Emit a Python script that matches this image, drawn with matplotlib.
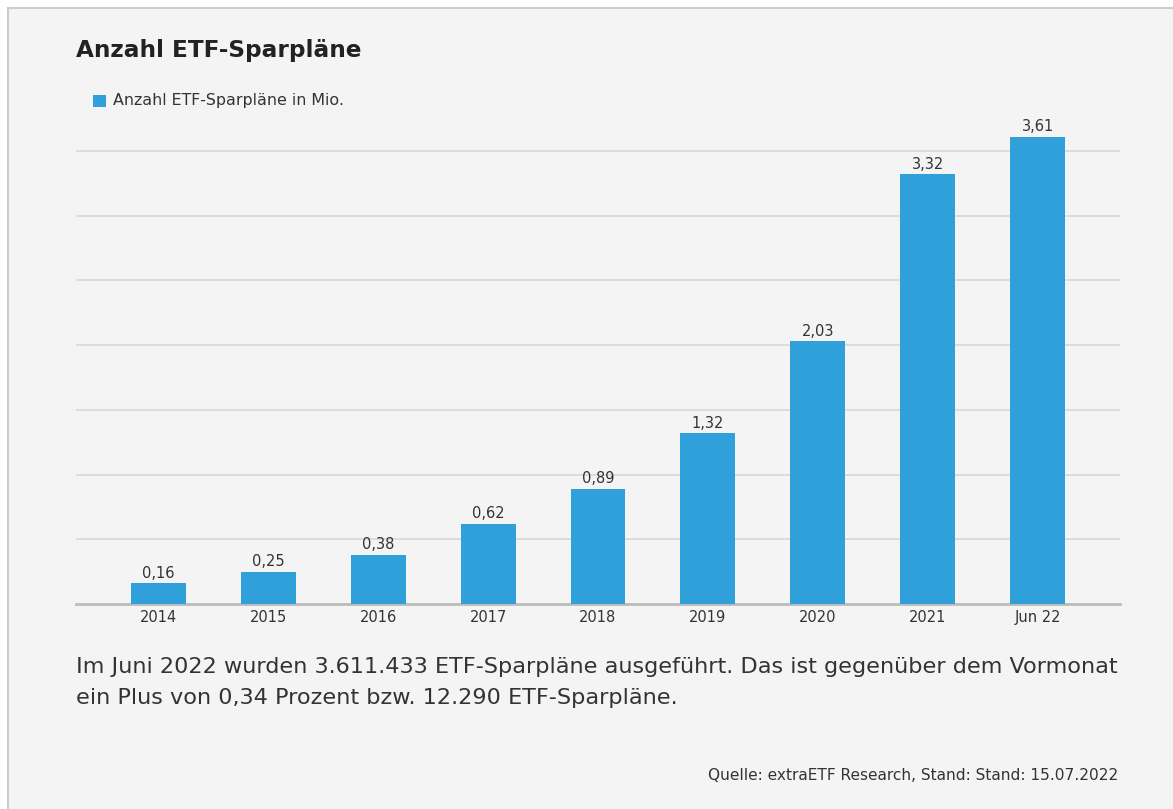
import matplotlib.pyplot as plt
from matplotlib.patches import Rectangle

# Daten
kategorien = ['2014', '2015', '2016', '2017', '2018', '2019', '2020', '2021', 'Jun 22']
sparplaene_mio = [0.16, 0.25, 0.38, 0.62, 0.89, 1.32, 2.03, 3.32, 3.61]
wert_labels = ['0,16', '0,25', '0,38', '0,62', '0,89', '1,32', '2,03', '3,32', '3,61']

plt.rcParams['font.family'] = ['DejaVu Sans']

W, H = 1173, 809
fig = plt.figure(figsize=(W / 100, H / 100), dpi=100)
fig.patch.set_facecolor('white')

# grauer Kasten mit Rahmen
box = Rectangle((8 / W, -0.01), 1.02, 1 - 8 / H + 0.01, transform=fig.transFigure,
                facecolor='#f4f4f4', edgecolor='#cccccc', linewidth=1.5, zorder=-5)
fig.patches.append(box)

# Achse: x 76..1120, y Basis 604, 3.5 bei 151
ax_left, ax_right = 76 / W, 1120 / W
y0 = 1 - 604 / H
px_per_unit = (604 - 151) / 3.5
ymax = 3.75
ax_h = ymax * px_per_unit / H
ax = fig.add_axes([ax_left, y0, ax_right - ax_left, ax_h], zorder=2)
ax.set_facecolor('none')

x = range(len(kategorien))
bars = ax.bar(x, sparplaene_mio, width=0.5, color='#2fa0d9', zorder=3)
for b, lab in zip(bars, wert_labels):
    ax.text(b.get_x() + b.get_width() / 2, b.get_height() + 0.02, lab,
            ha='center', va='bottom', fontsize=10.5, color='#333333', zorder=4)

ax.set_xlim(-0.75, len(kategorien) - 0.25)
ax.set_ylim(0, ymax)
ax.set_yticks([0.5, 1.0, 1.5, 2.0, 2.5, 3.0, 3.5])
ax.yaxis.grid(True, color='#d8d8d8', linewidth=1.2, zorder=0)
ax.set_axisbelow(True)
ax.tick_params(axis='y', length=0, labelleft=False)
ax.set_xticks(list(x))
ax.set_xticklabels(kategorien, fontsize=10.5, color='#333333')
ax.tick_params(axis='x', length=0, pad=4)
for s in ['top', 'right', 'left']:
    ax.spines[s].set_visible(False)
ax.spines['bottom'].set_color('#bbbbbb')
ax.spines['bottom'].set_linewidth(2)

# Titel
fig.text(76 / W, 1 - 51 / H, 'Anzahl ETF-Sparpläne', fontsize=16.7, fontweight='bold',
         color='#222222', va='center', ha='left')

# Legende
fig.patches.append(Rectangle((93 / W, 1 - 107 / H), 13 / W, 12 / H, transform=fig.transFigure,
                             facecolor='#2fa0d9', edgecolor='none'))
fig.text(113 / W, 1 - 101 / H, 'Anzahl ETF-Sparpläne in Mio.', fontsize=11.4,
         color='#333333', va='center', ha='left')

# Beschreibung
fig.text(76 / W, 1 - 667 / H,
         'Im Juni 2022 wurden 3.611.433 ETF-Sparpläne ausgeführt. Das ist gegenüber dem Vormonat',
         fontsize=16.1, color='#333333', va='center', ha='left')
fig.text(76 / W, 1 - 698 / H, 'ein Plus von 0,34 Prozent bzw. 12.290 ETF-Sparpläne.',
         fontsize=16.1, color='#333333', va='center', ha='left')

# Quelle
fig.text(1118 / W, 1 - 776 / H, 'Quelle: extraETF Research, Stand: Stand: 15.07.2022',
         fontsize=11.1, color='#333333', va='center', ha='right')

fig.savefig('out.png', dpi=100, facecolor=fig.get_facecolor())
